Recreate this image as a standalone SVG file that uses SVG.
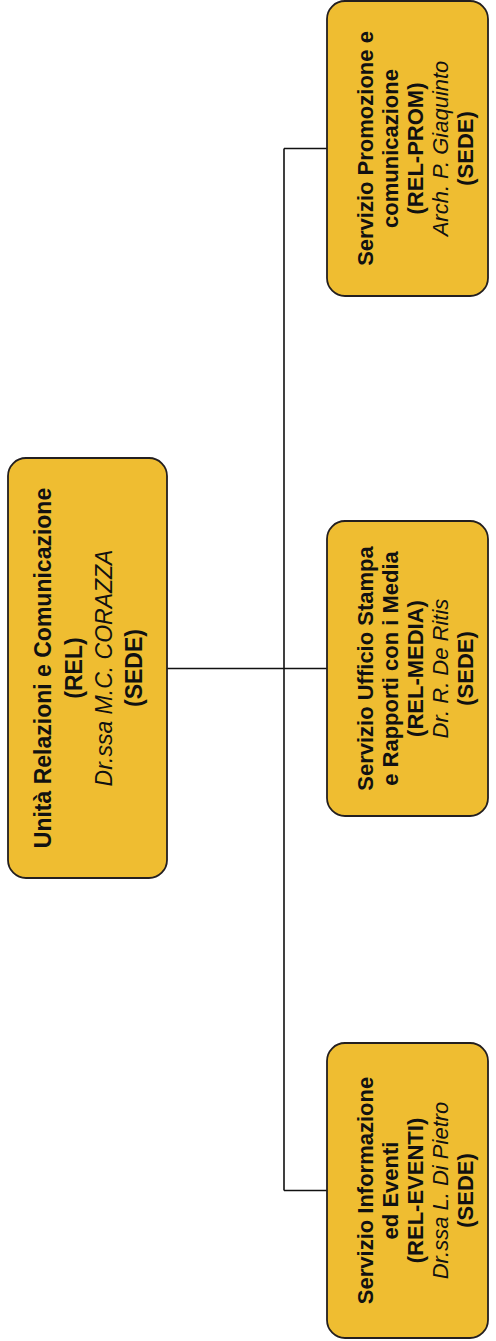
<svg xmlns="http://www.w3.org/2000/svg" width="496" height="1341" viewBox="0 0 496 1341">
<style>
.box{fill:#EFBD31;stroke:#231f20;stroke-width:1.8}
.conn{fill:none;stroke:#111;stroke-width:1.6}
text{font-family:"Liberation Sans",Arial,sans-serif;font-size:22px;fill:#111;text-anchor:middle}
.root text{font-size:23px}
.b{font-weight:bold}
.i{font-style:italic}
</style>
<rect width="496" height="1341" fill="#fff"/>
<g id="connectors">
<path class="conn" d="M167 668.5 H327 M284 148.5 V1190.5 M284 148.5 H327 M284 1190.5 H327"/>
</g>
<g id="root" class="root">
<rect class="box" x="8" y="458" width="159" height="420" rx="18"/>
<g transform="translate(87.5,668) rotate(-90)">
<text class="b" y="-36.5">Unità Relazioni e Comunicazione</text>
<text class="b" y="-5.5">(REL)</text>
<text class="i" y="24.5">Dr.ssa M.C. CORAZZA</text>
<text class="b" y="54.5">(SEDE)</text>
</g>
</g>
<g id="rel-prom">
<rect class="box" x="327" y="1" width="161" height="295" rx="18"/>
<g transform="translate(407.5,148.5) rotate(-90)">
<text class="b" y="-34.5">Servizio Promozione e</text>
<text class="b" y="-9.5">comunicazione</text>
<text class="b" y="15.5">(REL-PROM)</text>
<text class="i" y="40.5">Arch. P. Giaquinto</text>
<text class="b" y="65.5">(SEDE)</text>
</g>
</g>
<g id="rel-media">
<rect class="box" x="327" y="521" width="161" height="295" rx="18"/>
<g transform="translate(407.5,668.5) rotate(-90)">
<text class="b" y="-34.5">Servizio Ufficio Stampa</text>
<text class="b" y="-9.5">e Rapporti con i Media</text>
<text class="b" y="15.5">(REL-MEDIA)</text>
<text class="i" y="40.5">Dr. R. De Ritis</text>
<text class="b" y="65.5">(SEDE)</text>
</g>
</g>
<g id="rel-eventi">
<rect class="box" x="327" y="1043" width="161" height="295" rx="18"/>
<g transform="translate(407.5,1190.5) rotate(-90)">
<text class="b" y="-34.5">Servizio Informazione</text>
<text class="b" y="-9.5">ed Eventi</text>
<text class="b" y="15.5">(REL-EVENTI)</text>
<text class="i" y="40.5">Dr.ssa L. Di Pietro</text>
<text class="b" y="65.5">(SEDE)</text>
</g>
</g>
</svg>
